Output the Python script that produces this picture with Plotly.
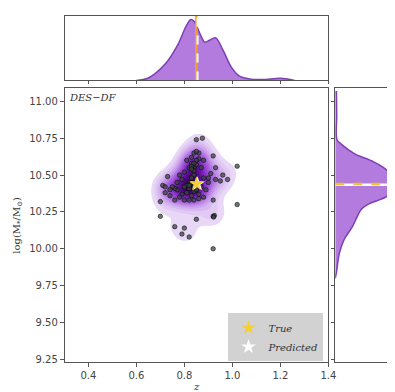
import numpy as np
import plotly.graph_objects as go

# ---- data ----
pts_z = [0.85, 0.875, 0.92, 1.02, 1.02, 0.92, 0.70, 0.76, 0.79, 0.80, 0.82, 0.85, 0.92, 0.925, 0.922,
         0.92, 0.70, 0.72, 0.73, 0.71, 0.72,
         0.93, 0.91, 0.98, 0.95, 0.96, 0.90, 0.93, 0.88, 0.87, 0.88, 0.86, 0.86,
         0.82, 0.83, 0.84, 0.84, 0.85, 0.83, 0.85, 0.84, 0.83, 0.82, 0.81, 0.80, 0.81, 0.79,
         0.83, 0.84, 0.86, 0.87, 0.85, 0.86, 0.88, 0.84, 0.80, 0.78, 0.77, 0.76, 0.75, 0.74,
         0.77, 0.79, 0.78, 0.80, 0.82, 0.81, 0.83, 0.84, 0.85, 0.74, 0.76, 0.82, 0.86, 0.89, 0.90,
         0.83, 0.84, 0.82, 0.85, 0.84, 0.83]
pts_m = [10.74, 10.75, 10.63, 10.56, 10.30, 10.00, 10.22, 10.15, 10.10, 10.14, 10.08, 10.20, 10.22, 10.225, 10.215,
         10.33, 10.32, 10.38, 10.49, 10.43, 10.42,
         10.55, 10.51, 10.47, 10.46, 10.50, 10.48, 10.47, 10.48, 10.55, 10.60, 10.65, 10.61,
         10.44, 10.45, 10.50, 10.55, 10.57, 10.58, 10.60, 10.53, 10.48, 10.41, 10.43, 10.42, 10.38, 10.37,
         10.36, 10.39, 10.43, 10.42, 10.40, 10.37, 10.35, 10.33, 10.33, 10.35, 10.40, 10.41, 10.42, 10.40,
         10.45, 10.47, 10.50, 10.52, 10.55, 10.60, 10.62, 10.65, 10.66, 10.36, 10.33, 10.33, 10.34, 10.40, 10.45,
         10.56, 10.58, 10.43, 10.45, 10.42, 10.54]

true_z, true_m = 0.85, 10.44
pred_z, pred_m = 0.855, 10.44

# top marginal (z) density, relative
marg_z = [0.60, 0.65, 0.718, 0.773, 0.807, 0.827, 0.841, 0.855, 0.868, 0.885, 0.905, 0.93, 0.963,
          0.997, 1.03, 1.086, 1.15, 1.2, 1.26]
marg_z_d = [0.0, 0.04, 0.26, 0.59, 0.89, 1.0, 0.97, 0.86, 0.74, 0.63, 0.66, 0.70, 0.48,
            0.21, 0.07, 0.017, 0.02, 0.035, 0.0]

# right marginal (mass) density, relative
marg_m = [11.07, 10.90, 10.74, 10.71, 10.645, 10.59, 10.534, 10.466, 10.44, 10.40, 10.354, 10.30,
          10.265, 10.22, 10.152, 10.063, 9.97, 9.84, 9.80]
marg_m_d = [0.02, 0.025, 0.03, 0.10, 0.32, 0.64, 0.86, 0.97, 1.03, 0.98, 0.86, 0.54,
            0.43, 0.37, 0.29, 0.15, 0.07, 0.02, 0.0]

x_ticks = [0.4, 0.6, 0.8, 1.0, 1.2, 1.4]
y_ticks = [9.25, 9.50, 9.75, 10.00, 10.25, 10.50, 10.75, 11.00]

# ---- 2D kernel density of the points ----
gx = np.linspace(0.55, 1.15, 180)
gy = np.linspace(9.85, 10.95, 180)
X, Y = np.meshgrid(gx, gy)
px_ = np.array(pts_z)
py_ = np.array(pts_m)
bx, by = 0.042, 0.065
Z = np.zeros_like(X)
for a, b in zip(px_, py_):
    Z += np.exp(-0.5 * (((X - a) / bx) ** 2 + ((Y - b) / by) ** 2))
Z /= Z.max()

purple_scale = [
    [0.0, "rgba(255,255,255,0)"],
    [0.04, "rgba(255,255,255,0)"],
    [0.05, "#eee2f8"],
    [0.2, "#dcc2f2"],
    [0.35, "#c596ea"],
    [0.5, "#a964dd"],
    [0.7, "#8630c8"],
    [0.85, "#6210a0"],
    [1.0, "#3a0360"],
]

fig = go.Figure()

fig.add_trace(go.Contour(
    x=gx, y=gy, z=Z, colorscale=purple_scale, zmin=0, zmax=1,
    contours=dict(start=0.05, end=1.0, size=0.06, coloring="fill"),
    line=dict(width=0), showscale=False, hoverinfo="skip", showlegend=False,
    xaxis="x", yaxis="y"))

fig.add_trace(go.Scatter(
    x=pts_z, y=pts_m, mode="markers",
    marker=dict(size=4.5, color="rgba(60,70,65,0.75)", line=dict(color="rgba(0,0,0,0.85)", width=0.6)),
    showlegend=False, xaxis="x", yaxis="y"))

fig.add_trace(go.Scatter(
    x=[pred_z], y=[pred_m], mode="markers", name="<i>Predicted</i>",
    marker=dict(symbol="star", size=11, color="white", line=dict(width=0)),
    xaxis="x", yaxis="y"))
fig.add_trace(go.Scatter(
    x=[true_z], y=[true_m], mode="markers", name="<i>True</i>",
    marker=dict(symbol="star", size=11, color="#f5d033", line=dict(width=0)),
    xaxis="x", yaxis="y"))

# top marginal
fig.add_trace(go.Scatter(
    x=marg_z, y=marg_z_d, mode="lines", fill="tozeroy", line=dict(color="#7d3fb5", width=1.5, shape="spline"),
    fillcolor="rgba(165,100,215,0.85)", showlegend=False, xaxis="x2", yaxis="y2"))
fig.add_trace(go.Scatter(
    x=[true_z, true_z], y=[0, 1.1], mode="lines", line=dict(color="#f0a030", width=2.5),
    showlegend=False, xaxis="x2", yaxis="y2"))
fig.add_trace(go.Scatter(
    x=[pred_z, pred_z], y=[0, 1.1], mode="lines", line=dict(color="white", width=2, dash="dash"),
    showlegend=False, xaxis="x2", yaxis="y2"))

# right marginal
fig.add_trace(go.Scatter(
    x=marg_m_d, y=marg_m, mode="lines", fill="tozerox", line=dict(color="#7d3fb5", width=1.5, shape="spline"),
    fillcolor="rgba(165,100,215,0.85)", showlegend=False, xaxis="x3", yaxis="y3"))
fig.add_trace(go.Scatter(
    x=[0, 1.2], y=[true_m - 0.005, true_m - 0.005], mode="lines", line=dict(color="white", width=2.5),
    showlegend=False, xaxis="x3", yaxis="y3"))
fig.add_trace(go.Scatter(
    x=[0, 1.2], y=[true_m, true_m], mode="lines", line=dict(color="#f5c030", width=2.5, dash="dash"),
    showlegend=False, xaxis="x3", yaxis="y3"))

W, H = 395, 392
dx_main = [58 / W, 327 / W]
dy_main = [1 - 357 / H, 1 - 81 / H]
dy_top = [1 - 73 / H, 1 - 8 / H]
dx_right = [334 / W, 1.0]

axcol = "#555555"
tickfont = dict(family="DejaVu Sans", size=10, color="#444444")
xr = [0.302, 1.4]
yr = [9.23, 11.088]

fig.update_layout(
    width=W, height=H, margin=dict(l=0, r=0, t=0, b=0),
    paper_bgcolor="white", plot_bgcolor="white",
    xaxis=dict(domain=dx_main, range=xr, tickvals=x_ticks, ticktext=[f"{v:.1f}" for v in x_ticks],
               showline=True, mirror=True, linecolor=axcol, linewidth=1, ticks="outside", ticklen=4,
               tickcolor=axcol, showgrid=False, zeroline=False, tickfont=tickfont,
               title=dict(text="<i>z</i>", font=dict(family="DejaVu Serif", size=10, color="#333"), standoff=2),
               anchor="y"),
    yaxis=dict(domain=dy_main, range=yr, tickvals=y_ticks, ticktext=[f"{v:.2f}" for v in y_ticks],
               showline=True, mirror=True, linecolor=axcol, linewidth=1, ticks="outside", ticklen=4,
               tickcolor=axcol, showgrid=False, zeroline=False, tickfont=tickfont,
               title=dict(text="log(M<sub>*</sub>/M<sub>⊙</sub>)", font=dict(family="DejaVu Serif", size=10, color="#333"), standoff=6),
               anchor="x"),
    xaxis2=dict(domain=dx_main, range=xr, tickvals=x_ticks, showticklabels=False,
                showline=True, mirror=True, linecolor=axcol, linewidth=1, ticks="outside", ticklen=3,
                tickcolor=axcol, showgrid=False, zeroline=False, anchor="y2"),
    yaxis2=dict(domain=dy_top, range=[0, 1.06], showticklabels=False, ticks="",
                showline=True, mirror=True, linecolor=axcol, linewidth=1, showgrid=False, zeroline=False,
                anchor="x2"),
    xaxis3=dict(domain=dx_right, range=[0, 1.0], showticklabels=False, ticks="",
                showline=True, mirror=True, linecolor=axcol, linewidth=1, showgrid=False, zeroline=False,
                anchor="y3"),
    yaxis3=dict(domain=dy_main, range=yr, tickvals=y_ticks, showticklabels=False,
                showline=True, mirror=False, linecolor=axcol, linewidth=1, ticks="outside", ticklen=3,
                tickcolor=axcol, showgrid=False, zeroline=False, anchor="x3"),
    legend=dict(x=322 / W, y=1 - 356 / H, xanchor="right", yanchor="bottom", xref="paper",
                bgcolor="rgba(205,205,205,0.9)", borderwidth=0,
                font=dict(family="DejaVu Serif", size=10, color="#333"),
                traceorder="reversed", itemwidth=30),
    annotations=[dict(text="<i>DES−DF</i>", x=0.01, y=0.995, xref="x domain", yref="y domain",
                      xanchor="left", yanchor="top", showarrow=False,
                      font=dict(family="DejaVu Serif", size=10, color="#333"))],
)

fig.write_html("out.html")
